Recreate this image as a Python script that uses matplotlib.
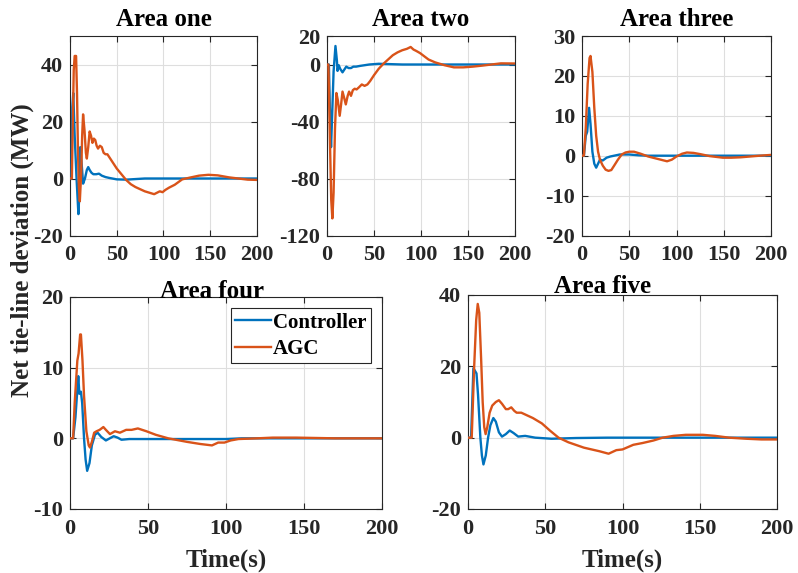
import matplotlib
matplotlib.use("Agg")
import matplotlib.pyplot as plt

plt.rcParams['font.family'] = ['Liberation Serif', 'DejaVu Serif']
plt.rcParams['font.weight'] = 'bold'
plt.rcParams['axes.unicode_minus'] = False

BLUE = '#0072BD'
ORANGE = '#D95319'

# ---------------- data ----------------
titles = ['Area one', 'Area two', 'Area three', 'Area four', 'Area five']
series_names = ['Controller', 'AGC']

# Area one
t1_ctrl = [0, 1.5, 2.5, 3.5, 5, 7, 9, 10, 11, 12.5, 14, 16, 18, 19.5, 21, 23, 25, 28, 31, 34, 38, 42, 50, 60, 70, 80, 100, 200]
y1_ctrl = [0, 0, 25, 30, 15, 0, -12.5, -5, 11, 5, -1.8, 0, 3, 4, 3, 2, 1.5, 1.5, 1.7, 1, 0.5, 0.2, -0.3, -0.4, -0.2, 0, 0, 0]
t1_agc = [0, 2, 3, 4, 5, 6.5, 7.5, 8.5, 9.5, 10.5, 12, 13, 14, 15.5, 17, 18, 19.5, 21, 22.5, 24, 25.5, 27, 28.5, 30, 32, 34,
          36, 38, 40, 43, 46, 50, 55, 60, 65, 70, 80, 90, 93, 96, 99, 102, 106, 112, 120, 128, 138, 148, 158, 170, 180, 190, 200]
y1_agc = [0, 0, 20, 38, 43, 43, 30, 10, -3, -8, 2, 15, 22.5, 17, 9, 7, 11, 16.5, 15, 12.5, 14, 13.5, 11.5, 10.5, 11.5, 11,
          9, 8.5, 8.5, 7, 5.5, 3.5, 1.5, -0.5, -2, -3, -4.5, -5.5, -5, -4.5, -4.8, -4, -3.2, -2.2, -0.3, 0.3, 1.0, 1.3, 1.1, 0.4, 0, -0.4, -0.5]

# Area two
t2_ctrl = [0, 2, 3, 4.3, 5.5, 7, 9, 10.5, 11.2, 12.5, 14, 16.5, 18.5, 20.5, 23, 25.5, 28, 31, 35, 40, 45, 55, 65, 80, 200]
y2_ctrl = [0, 0, -30, -58, -35, -5, 13, 3, -4.5, -0.5, -3, -5.5, -3.5, -1.5, -2.5, -2.5, -1.5, -1.5, -1, -0.5, 0, 0.5, 0.3, 0, 0]
t2_agc = [0, 1.5, 3, 4.5, 5.7, 7, 8.5, 10, 11.5, 13.5, 15, 16.5, 18.5, 20, 22, 23.5, 25.5, 27.5, 29.5, 31.5, 34, 37, 40,
          43, 46, 50, 55, 60, 65, 70, 75, 80, 85, 89, 92, 95, 99, 103, 108, 115, 125, 135, 145, 155, 165, 175, 185, 200]
y2_agc = [0, 0, -50, -95, -108, -90, -45, -20, -25, -36, -28, -19, -24, -28, -22, -19, -22, -18, -17, -17.5, -16, -14, -15,
          -14, -11.5, -7.5, -3, 0.5, 3.5, 6.5, 8.5, 10, 11, 12.3, 10.5, 9.5, 8, 6, 3.5, 1.5, -0.5, -2, -2, -1.5, -0.8, 0, 0.8, 0.7]

# Area three
t3_ctrl = [0, 2, 4, 5.5, 7.5, 9, 11, 13, 15, 17, 19, 22, 26, 30, 40, 50, 60, 70, 200]
y3_ctrl = [0, 0, 5, 6, 12, 8, 1, -2, -3, -2, -1, -1.2, -0.5, -0.2, 0.3, 0.3, 0.1, 0, 0]
t3_agc = [0, 2, 4, 6, 8, 9, 11, 13, 15, 17, 19, 22, 25, 28, 31, 34, 38, 42, 46, 50, 55, 62, 70, 80, 90, 95, 100, 106, 111,
          118, 125, 135, 149, 158, 168, 178, 188, 200]
y3_agc = [0, 0, 7, 18, 24.5, 25, 21, 12, 5, 1, -1, -2.5, -3.5, -3.8, -3.6, -2.5, -1, 0.3, 0.8, 1.0, 1.0, 0.5, -0.2, -0.8, -1.4,
          -1, -0.2, 0.5, 0.8, 0.7, 0.4, -0.1, -0.5, -0.5, -0.4, -0.2, 0, 0.2]

# Area four
t4_ctrl = [0, 2, 3.5, 5.3, 6, 7, 7.8, 9, 10, 11, 12.5, 14, 16, 17.7, 20, 23, 25.5, 28, 30.5, 33, 38, 45, 60, 80, 100, 110, 200]
y4_ctrl = [0, 0, 3, 8.8, 6.3, 6.6, 5, 0, -3, -4.6, -3.5, -1, 0.5, 0.8, 0.2, -0.3, 0, 0.3, 0.1, -0.2, -0.1, -0.1, -0.1, -0.1, -0.1, 0, 0]
t4_agc = [0, 2, 3, 4.7, 5.5, 6.5, 7, 8, 9, 10.5, 12, 12.8, 14, 15.5, 17, 19, 21.4, 23, 25.6, 28.8, 32, 36, 39.5, 43.5, 49,
          55, 63, 75, 83.5, 91, 95, 99, 103, 108, 120, 130, 145, 170, 200]
y4_agc = [0, 0, 5, 11, 12, 14.7, 14.7, 11, 6, 1, -1, -1.3, -0.5, 0.8, 1, 1.2, 1.6, 1.2, 0.6, 1, 0.8, 1.2, 1.2, 1.4, 1,
          0.5, 0, -0.5, -0.8, -1, -0.6, -0.6, -0.3, -0.1, 0, 0.1, 0.1, 0, 0]

# Area five
t5_ctrl = [0, 2, 3.5, 5.5, 6.5, 8, 9, 10, 11.5, 13, 14.5, 16.4, 18, 20, 22, 24.5, 27, 29.5, 32.5, 37, 43.5, 54, 70, 90, 200]
y5_ctrl = [0, 0, 19.5, 18, 12, 0, -5, -7.5, -5, 0, 3.5, 5.5, 4.5, 1.5, 0.3, 1, 2, 1.3, 0.3, 0.5, 0, -0.3, -0.1, 0, 0]
t5_agc = [0, 2.4, 4, 5.3, 6.3, 7.3, 8.5, 9.5, 10.5, 11.4, 12.5, 14, 15.7, 18, 20, 22, 24.5, 26, 28, 30, 31.5, 34.5, 38, 42,
          47.8, 53, 58.6, 65, 75, 85, 91, 96, 100, 107, 113, 120, 126, 133, 141, 152, 160, 169, 180, 190, 200]
y5_agc = [0, 0, 20, 33, 37.5, 35, 22, 10, 3, 1, 3, 7, 9, 10, 10.5, 9.5, 8, 8, 8.5, 7.5, 7, 7, 6.3, 5.5,
          4, 2, 0, -1.3, -2.8, -3.8, -4.5, -3.5, -3.3, -2, -1.5, -0.8, 0, 0.5, 0.8, 0.8, 0.5, 0, -0.3, -0.5, -0.5]

ylims = [(-20, 50), (-120, 20), (-20, 30), (-10, 20), (-20, 40)]
yticks = [[-20, 0, 20, 40], [-120, -80, -40, 0, 20], [-20, -10, 0, 10, 20, 30], [-10, 0, 10, 20], [-20, 0, 20, 40]]
xticks = [0, 50, 100, 150, 200]

ctrl = [(t1_ctrl, y1_ctrl), (t2_ctrl, y2_ctrl), (t3_ctrl, y3_ctrl), (t4_ctrl, y4_ctrl), (t5_ctrl, y5_ctrl)]
agc = [(t1_agc, y1_agc), (t2_agc, y2_agc), (t3_agc, y3_agc), (t4_agc, y4_agc), (t5_agc, y5_agc)]

# ---------------- layout ----------------
W, H = 798, 573
def rect(l, r, top, bot):
    return [l / W, 1 - bot / H, (r - l) / W, (bot - top) / H]

rects = [rect(70, 257, 36, 235.5), rect(327, 515, 36, 235.5), rect(582, 771, 36, 235.5),
         rect(70, 382, 297, 509), rect(468, 777, 295, 509)]
title_x = [0.5, 0.5, 0.5, 0.454, 0.437]
title_pad = [7, 7, 7, -1, 1.5]

fig = plt.figure(figsize=(W / 100, H / 100), dpi=100)
axes = []
for i in range(5):
    ax = fig.add_axes(rects[i])
    axes.append(ax)
    t, y = ctrl[i]
    ax.plot(t, y, color=BLUE, lw=1.7, label=series_names[0], zorder=3)
    t, y = agc[i]
    ax.plot(t, y, color=ORANGE, lw=1.7, label=series_names[1], zorder=3)
    ax.set_xlim(0, 200)
    ax.set_ylim(*ylims[i])
    ax.set_xticks(xticks)
    ax.set_yticks(yticks[i])
    ax.grid(True, color='#dedede', lw=0.8)
    ax.set_axisbelow(True)
    ax.tick_params(direction='in', length=4, width=0.8, top=True, right=True,
                   labelsize=16, pad=5, colors='#262626')
    ax.tick_params(axis='x', pad=7)
    for lab in ax.get_xticklabels() + ax.get_yticklabels():
        lab.set_fontweight('bold')
    for s in ax.spines.values():
        s.set_color('#262626')
        s.set_linewidth(0.8)
    ax.set_title(titles[i], fontsize=18, fontweight='bold', x=title_x[i], pad=title_pad[i])

for ax in axes[3:]:
    ax.set_xlabel('Time(s)', fontsize=18, fontweight='bold', labelpad=7, color='#262626')

leg = axes[3].legend(loc='upper right', fontsize=15, frameon=True, fancybox=False,
                     edgecolor='#262626', framealpha=1, handlelength=1.7, handletextpad=0.1,
                     borderpad=0.2, labelspacing=0.3, borderaxespad=0.55)
leg.get_frame().set_linewidth(0.8)
for txt in leg.get_texts():
    txt.set_fontweight('bold')

fig.text(22 / W, 1 - 250.5 / H, 'Net tie-line deviation (MW)', rotation=90, fontsize=18,
         fontweight='bold', ha='center', va='center', color='#262626')

fig.savefig('out.png', dpi=100)
